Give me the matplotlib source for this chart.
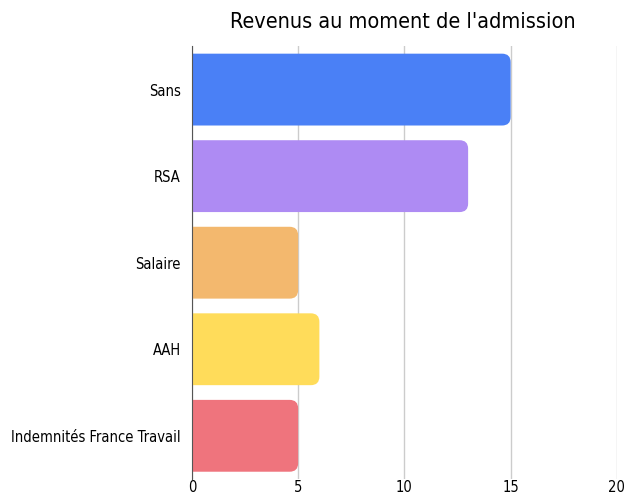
import matplotlib
matplotlib.use("Agg")
import matplotlib.pyplot as plt
from matplotlib.patches import FancyBboxPatch

categories = ["Sans", "RSA", "Salaire", "AAH", "Indemnités France Travail"]
values = [15, 13, 5, 6, 5]
colors = ["#4a80f6", "#ae8bf3", "#f3b86e", "#ffdc5a", "#ef747d"]
xticks = [0, 5, 10, 15, 20]

plt.rcParams['font.family'] = ['DejaVu Sans']
plt.rcParams['font.stretch'] = 'condensed'

fig = plt.figure(figsize=(6.25, 4.98), dpi=100)
ax = fig.add_axes([0.307, 0.038, 0.68, 0.869])

h = 0.83
ax.set_xlim(0, 20)
ax.set_ylim(len(categories) - 0.5, -0.5)
for i, (v, c) in enumerate(zip(values, colors)):
    p = FancyBboxPatch((-1, i - h / 2), v + 1, h,
                       boxstyle="round,pad=0,rounding_size=0.4",
                       mutation_aspect=0.245, fc=c, ec="none", zorder=3)
    ax.add_patch(p)

ax.set_xticks(xticks)
ax.set_yticks(range(len(categories)))
ax.set_yticklabels(categories, fontsize=10.5)
ax.tick_params(axis="x", labelsize=10.5, length=0, pad=1)
ax.tick_params(axis="y", length=0, pad=8)
ax.grid(axis="x", color="#cccccc", lw=1, zorder=0)
for s in ["top", "right", "bottom"]:
    ax.spines[s].set_visible(False)
ax.spines["left"].set_color("#555555")
ax.spines["left"].set_zorder(4)

fig.text(0.645, 0.955, "Revenus au moment de l'admission", ha="center", va="center", fontsize=15.5)

fig.savefig("out.png", dpi=100)
